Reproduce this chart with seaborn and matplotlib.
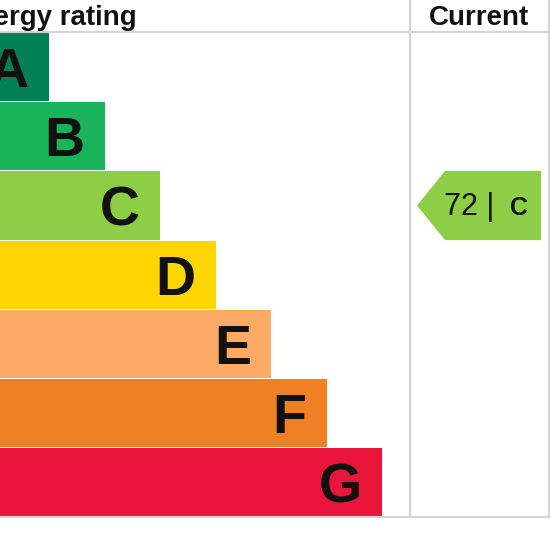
import matplotlib
matplotlib.use("Agg")
import matplotlib.pyplot as plt
import seaborn as sns
import pandas as pd
from matplotlib.patches import Polygon

# EPC bands (chart is cropped on the left, as in the reference)
bands = ["A", "B", "C", "D", "E", "F", "G"]
band_ends = [49, 104.5, 160, 215.5, 271, 326.5, 382]
band_colors = ["#008054", "#19b459", "#8dce46", "#ffd500", "#fcaa65", "#ef8023", "#e9153b"]
current_score = 72
current_band = "C"

df = pd.DataFrame({"band": bands, "end": band_ends})

sns.set_style("white")
plt.rcParams["font.family"] = ["Liberation Sans", "DejaVu Sans"]

fig = plt.figure(figsize=(5.5, 5.5), dpi=100)
ax = fig.add_axes([0, 0, 1, 1])

sns.barplot(data=df, x="end", y="band", hue="band", palette=band_colors,
            order=bands, orient="h", width=0.985, legend=False, ax=ax,
            saturation=1, linewidth=0)

# band letters
for i, (b, e) in enumerate(zip(bands, band_ends)):
    ax.text(e - 20, i + 0.29, b, ha="right", va="baseline",
            fontsize=40, fontweight="bold", color="#111111")

# grid lines of the table
grid = "#d4d4d4"
ax.axhline(-0.5, color=grid, lw=1.5)
ax.axhline(6.5, color=grid, lw=1.5)
ax.vlines([410, 549], -1.0, 6.5, color=grid, lw=1.5)

# headers
ax.text(137, -0.6, "Energy rating", ha="right", va="baseline",
        fontsize=20, fontweight="bold", color="#111111")
ax.text(479, -0.6, "Current", ha="center", va="baseline",
        fontsize=20, fontweight="bold", color="#111111")

# current rating arrow
k = bands.index(current_band)
arrow = Polygon([(417, k), (445, k - 0.5), (541, k - 0.5), (541, k + 0.5), (445, k + 0.5)],
                closed=True, color=band_colors[k], lw=0)
ax.add_patch(arrow)
ax.text(444, k + 0.14, f"{current_score} |", ha="left", va="baseline",
        fontsize=22, color="#111111")
ax.text(519, k + 0.14, current_band, ha="center", va="baseline",
        fontsize=18, fontweight="bold", color="#111111")

ax.set_xlim(0, 550)
ax.set_ylim(6.975, -0.9675)
ax.set_axis_off()

fig.savefig("out.png", dpi=100, facecolor="white")
